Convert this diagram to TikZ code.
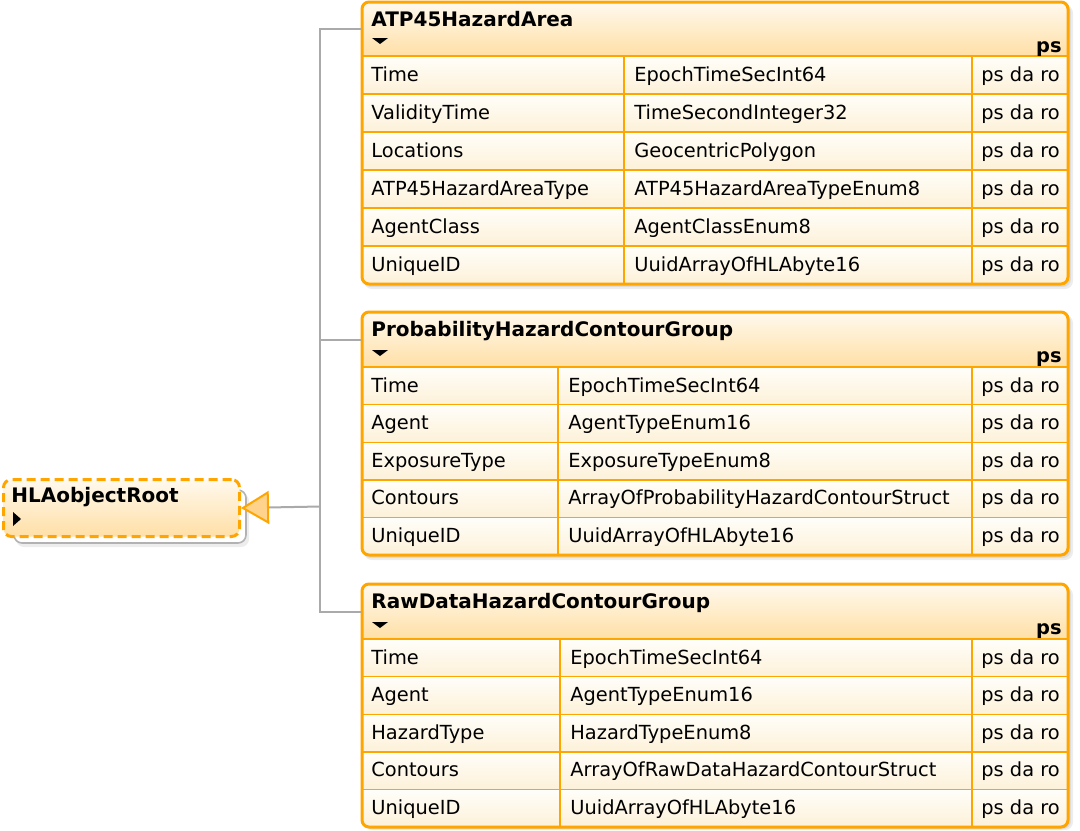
\documentclass[tikz,border=0pt]{standalone}
\usepackage{fontspec}
\setmainfont{DejaVu Sans}
\usetikzlibrary{positioning}
\usetikzlibrary{arrows.meta}

\definecolor{umlorange}{RGB}{255,165,0}
\definecolor{hdrtop}{RGB}{255,249,238}
\definecolor{hdrbot}{RGB}{255,223,165}
\definecolor{rowtop}{RGB}{255,254,250}
\definecolor{rowbot}{RGB}{253,241,216}
\definecolor{treegray}{RGB}{170,170,170}
\definecolor{tipfill}{RGB}{255,211,140}

\tikzset{
  classframe/.style={draw=umlorange, line width=1.5pt, rounded corners=3.5pt},
  rowline/.style={umlorange, line width=0.7pt},
  hdr/.style={anchor=north west, inner sep=0pt, minimum width=353pt, top color=hdrtop, bottom color=hdrbot},
  classtitle/.style={anchor=base west, inner sep=0pt, font=\fontsize{10}{12}\selectfont\bfseries},
  cell/.style={anchor=base west, inner sep=0pt, font=\fontsize{9.7}{11}\selectfont},
  stereo/.style={anchor=base east, inner sep=0pt, font=\fontsize{9.7}{11}\selectfont\bfseries},
  treeline/.style={treegray, line width=1pt},
  shadowbox/.style={fill=black, opacity=0.07, rounded corners=4pt},
  rootbox/.style={anchor=north west, inner sep=0pt, minimum width=118pt, minimum height=28.5pt,
    draw=umlorange, line width=1.5pt, dash pattern=on 4.5pt off 2.5pt, rounded corners=4pt,
    top color=hdrtop, bottom color=hdrbot},
}

\begin{document}
\begin{tikzpicture}[x=0.5pt,y=-0.5pt]
  \useasboundingbox (0,0) rectangle (1080,830);

  % ATP45HazardArea
  \fill[shadowbox] (364,5) rectangle (1073,289);
  \fill[shadowbox] (363,4) rectangle (1071,287);
  \begin{scope}
    \clip[rounded corners=3.5pt] (362,2) rectangle (1068,284);
    \node[hdr, minimum height=27pt] (atp) at (362,2) {};
    \foreach \i in {0,...,5}
      \shade[top color=rowtop, bottom color=rowbot] (362,{56+38*\i}) rectangle (1068,{94+38*\i});
  \end{scope}
  \foreach \i in {0,...,5}
    \draw[rowline] (362,{56+38*\i}) -- (1068,{56+38*\i});
  \draw[rowline] (624,56) -- (624,284) (972,56) -- (972,284);
  \draw[classframe] (362,2) rectangle (1068,284);
  \node[classtitle] (atp-title) at (371,26) {ATP45HazardArea};
  \fill (372,38) -- (388,38) -- (380,44) -- cycle;
  \node[stereo] (atp-ps) at (1062,52) {ps};
  \foreach \n/\t [count=\i from 0] in {Time/EpochTimeSecInt64, ValidityTime/TimeSecondInteger32,
      Locations/GeocentricPolygon, ATP45HazardAreaType/ATP45HazardAreaTypeEnum8,
      AgentClass/AgentClassEnum8, UniqueID/UuidArrayOfHLAbyte16} {
    \node[cell] (atp-n\i) at (371,{81+38*\i}) {\n};
    \node[cell] (atp-t\i) at (634,{81+38*\i}) {\t};
    \node[cell] (atp-a\i) at (981,{81+38*\i}) {ps da ro};
  }

  % ProbabilityHazardContourGroup
  \fill[shadowbox] (364,315) rectangle (1073,560);
  \fill[shadowbox] (363,314) rectangle (1071,558);
  \begin{scope}
    \clip[rounded corners=3.5pt] (362,312) rectangle (1068,555);
    \node[hdr, minimum height=27.5pt] (prob) at (362,312) {};
    \foreach \i in {0,...,4}
      \shade[top color=rowtop, bottom color=rowbot] (362,{367+37.6*\i}) rectangle (1068,{404.6+37.6*\i});
  \end{scope}
  \foreach \i in {0,...,4}
    \draw[rowline] (362,{367+37.6*\i}) -- (1068,{367+37.6*\i});
  \draw[rowline] (558,367) -- (558,555) (972,367) -- (972,555);
  \draw[classframe] (362,312) rectangle (1068,555);
  \node[classtitle] (prob-title) at (371,336) {ProbabilityHazardContourGroup};
  \fill (372,350) -- (388,350) -- (380,356) -- cycle;
  \node[stereo] (prob-ps) at (1062,362) {ps};
  \foreach \n/\t [count=\i from 0] in {Time/EpochTimeSecInt64, Agent/AgentTypeEnum16,
      ExposureType/ExposureTypeEnum8, Contours/ArrayOfProbabilityHazardContourStruct,
      UniqueID/UuidArrayOfHLAbyte16} {
    \node[cell] (prob-n\i) at (371,{392+37.6*\i}) {\n};
    \node[cell] (prob-t\i) at (568,{392+37.6*\i}) {\t};
    \node[cell] (prob-a\i) at (981,{392+37.6*\i}) {ps da ro};
  }

  % RawDataHazardContourGroup
  \fill[shadowbox] (364,587) rectangle (1073,830);
  \fill[shadowbox] (363,586) rectangle (1071,829);
  \begin{scope}
    \clip[rounded corners=3.5pt] (362,584) rectangle (1068,827);
    \node[hdr, minimum height=27.5pt] (raw) at (362,584) {};
    \foreach \i in {0,...,4}
      \shade[top color=rowtop, bottom color=rowbot] (362,{639+37.6*\i}) rectangle (1068,{676.6+37.6*\i});
  \end{scope}
  \foreach \i in {0,...,4}
    \draw[rowline] (362,{639+37.6*\i}) -- (1068,{639+37.6*\i});
  \draw[rowline] (560,639) -- (560,827) (972,639) -- (972,827);
  \draw[classframe] (362,584) rectangle (1068,827);
  \node[classtitle] (raw-title) at (371,608) {RawDataHazardContourGroup};
  \fill (372,622) -- (388,622) -- (380,628) -- cycle;
  \node[stereo] (raw-ps) at (1062,634) {ps};
  \foreach \n/\t [count=\i from 0] in {Time/EpochTimeSecInt64, Agent/AgentTypeEnum16,
      HazardType/HazardTypeEnum8, Contours/ArrayOfRawDataHazardContourStruct,
      UniqueID/UuidArrayOfHLAbyte16} {
    \node[cell] (raw-n\i) at (371,{664+37.6*\i}) {\n};
    \node[cell] (raw-t\i) at (570,{664+37.6*\i}) {\t};
    \node[cell] (raw-a\i) at (981,{664+37.6*\i}) {ps da ro};
  }

  % HLAobjectRoot
  \fill[shadowbox] (16,493) rectangle (249,547);
  \draw[gray!60, fill=white, line width=0.8pt, rounded corners=4pt] (14,490) rectangle (246,543);
  \node[rootbox] (root) at (2,478) {};
  \node[classtitle] (root-title) at (11,502) {HLAobjectRoot};
  \fill (13,512) -- (21,519) -- (13,526) -- cycle;

  % generalization tree
  \coordinate (trunk) at (320,506.5);
  \draw[treeline] (atp.west) -| (trunk);
  \draw[treeline] (prob.west) -| (trunk);
  \draw[treeline] (raw.west) -| (trunk);
  \draw[treeline, -{Triangle[length=14pt, width=16.5pt, color=umlorange, fill=tipfill]}] (trunk) -- (root.east);
\end{tikzpicture}
\end{document}
